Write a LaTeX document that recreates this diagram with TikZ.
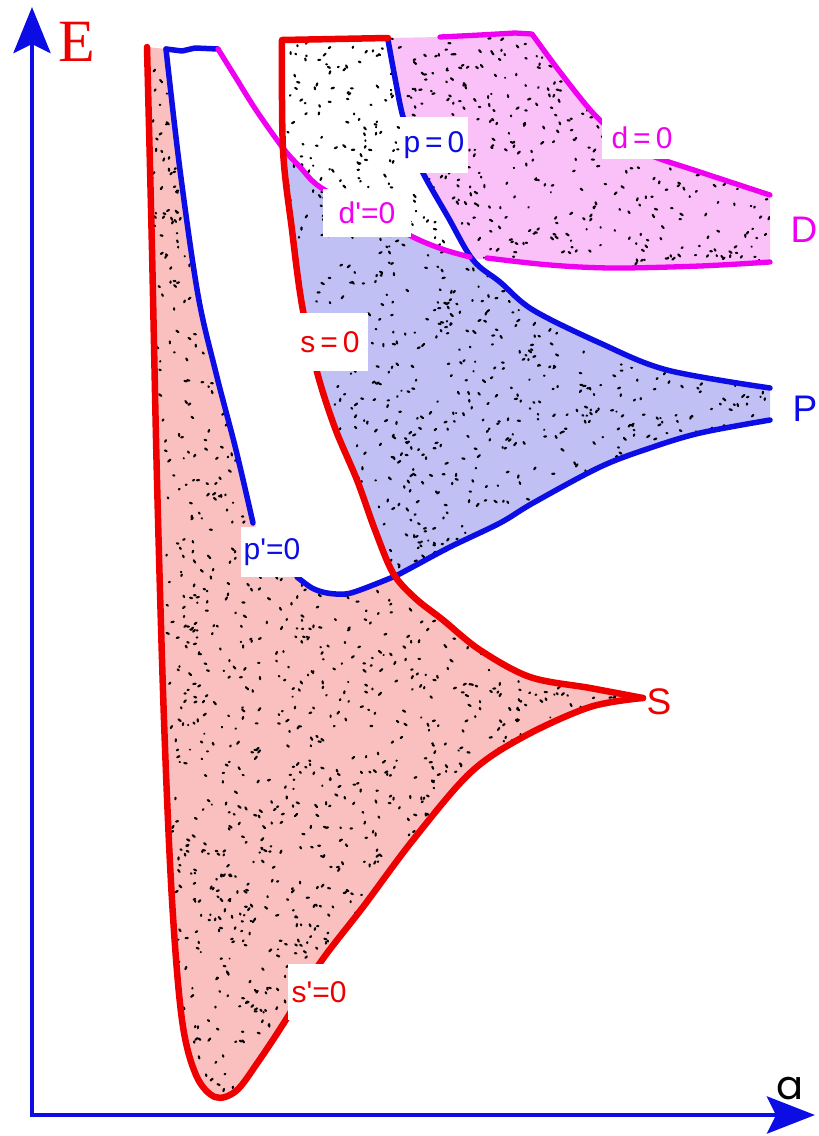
\documentclass[tikz,border=0pt]{standalone}
\usepackage{fontspec}
\setmainfont{Liberation Sans}
\newfontfamily\serifE{Liberation Serif}
\newfontfamily\afont{Poppins}
\usetikzlibrary{arrows.meta}
\definecolor{redl}{RGB}{238,0,0}
\definecolor{bluel}{RGB}{12,12,228}
\definecolor{magl}{RGB}{240,0,240}
\definecolor{pinkf}{RGB}{250,192,192}
\definecolor{bluef}{RGB}{192,192,245}
\definecolor{magf}{RGB}{250,192,248}
\newcommand{\stipple}[5]{%
  \foreach \i in {1,...,#1}{%
    \pgfmathsetmacro\stpx{#2+rnd*(#3-#2)}%
    \pgfmathsetmacro\stpy{#4+rnd*(#5-#4)}%
    \pgfmathsetmacro\stdx{rand*2.4}%
    \pgfmathsetmacro\stdy{rand*2.4}%
    \draw[dotmark] (\stpx,\stpy) -- ++(\stdx,\stdy);
  }}
% region outlines
\def\pathS{(147,47) -- plot[smooth,tension=0.55] coordinates {(147,47) (152,250) (157,480) (164,720) (172,900) (182,1020) (196,1075) (215,1097) (236,1091) (258,1062) (287,1018) (320,963) (363,907) (413,840) (470,773) (523,737) (590,707) (643,698)}
  -- plot[smooth,tension=0.55] coordinates {(643,698) (590,688) (530,677) (480,650) (443,620) (415,598) (393,573)}
  -- plot[smooth,tension=0.55] coordinates {(393,577) (360,590) (345,594) (327,593) (312,588) (297,577)}
  -- plot[smooth,tension=0.55] coordinates {(253,523) (236,450) (216,373) (198,295) (180,170) (166,49)} -- cycle}
\def\pathP{(283,148) -- plot[smooth,tension=0.55] coordinates {(283,148) (300,167) (320,187) (368,213) (415,238) (445,250) (470,257)}
  -- plot[smooth,tension=0.55] coordinates {(473,260) (500,282) (533,310) (600,343) (667,370) (770,388)}
  -- plot[smooth,tension=0.55] coordinates {(770,420) (700,433) (650,448) (600,467) (533,503) (500,523) (450,547) (407,570) (393,577)}
  -- plot[smooth,tension=0.55] coordinates {(393,573) (375,530) (357,480) (335,428) (317,372) (302,305) (292,230) (283,150)} -- cycle}
\def\pathW{(282,40) -- (388,38) -- plot[smooth,tension=0.55] coordinates {(388,40) (395,78) (402,113) (412,145) (423,173) (448,217) (473,260)}
  -- plot[smooth,tension=0.55] coordinates {(470,257) (445,250) (415,238) (368,213) (320,187) (300,167) (283,148)} -- cycle}
\def\pathD{(388,38) -- (440,37) -- (480,35) -- (515,33) -- (532,34) -- plot[smooth,tension=0.55] coordinates {(532,34) (560,72) (593,113) (620,137) (650,155) (700,172) (770,195)}
  -- (770,262) -- plot[smooth,tension=0.55] coordinates {(770,262) (700,266) (613,268) (550,265) (487,258)}
  -- plot[smooth,tension=0.55] coordinates {(473,260) (448,217) (423,173) (412,145) (402,113) (395,78) (388,40)} -- cycle}
\tikzset{
  dotmark/.style={black,line width=2.1pt,line cap=round},
  redline/.style={redl,line width=6.5pt,line join=round,line cap=round},
  blueline/.style={bluel,line width=5.5pt,line join=round,line cap=round},
  magline/.style={magl,line width=5.3pt,line join=round,line cap=round},
  axis/.style={bluel,line width=4.8pt,line join=miter},
  lab/.style={fill=white,inner sep=2pt,font=\fontsize{30}{32}\selectfont},
  biglab/.style={inner sep=1pt,font=\fontsize{37}{40}\selectfont},
}
\begin{document}
\begin{tikzpicture}[x=1pt,y=-1pt]
\useasboundingbox (0,0) rectangle (819,1136);
\pgfmathsetseed{4711}
% fills
\fill[pinkf] \pathS;
\fill[bluef] \pathP;
\fill[magf] \pathD;
% stipple
\begin{scope}
  \clip \pathS;
  \stipple{3000}{145}{645}{45}{1100}
\end{scope}
\begin{scope}
  \clip \pathP;
  \stipple{1200}{280}{770}{145}{580}
\end{scope}
\begin{scope}
  \clip \pathW;
  \stipple{240}{282}{475}{38}{262}
\end{scope}
\begin{scope}
  \clip \pathD;
  \stipple{520}{388}{770}{33}{270}
\end{scope}
% blue lines
\draw[blueline] plot[smooth,tension=0.55] coordinates {(166,49) (180,170) (198,295) (216,373) (236,450) (253,523)};
\draw[blueline] (166,49) -- (182,51) -- (195,48) -- (218,49);
\draw[blueline] plot[smooth,tension=0.55] coordinates {(297,577) (312,588) (327,593) (345,594) (360,590) (393,577) (407,570) (450,547) (500,523) (533,503) (600,467) (650,448) (700,433) (770,420)};
\draw[blueline] plot[smooth,tension=0.55] coordinates {(388,40) (395,78) (402,113) (412,145) (423,173) (448,217) (473,260) (500,282) (533,310) (600,343) (667,370) (770,388)};
% magenta lines
\draw[magline] plot[smooth,tension=0.55] coordinates {(218,49) (236,78) (256,110) (283,148) (300,167) (320,187) (368,213) (415,238) (445,250) (470,257)};
\draw[magline] (440,37) -- (480,35) -- (515,33) -- (532,34) -- plot[smooth,tension=0.55] coordinates {(532,34) (560,72) (593,113) (620,137) (650,155) (700,172) (770,195)};
\draw[magline] plot[smooth,tension=0.55] coordinates {(487,258) (550,265) (613,268) (700,266) (770,262)};
% red lines
\draw[redline] (388,38) -- (282,40) -- plot[smooth,tension=0.55] coordinates {(282,40) (283,150) (292,230) (302,305) (317,372) (335,428) (357,480) (375,530) (393,573) (415,598) (443,620) (480,650) (530,677) (590,688) (643,698)};
\draw[redline] plot[smooth,tension=0.55] coordinates {(147,47) (152,250) (157,480) (164,720) (172,900) (182,1020) (196,1075) (215,1097) (236,1091) (258,1062) (287,1018) (320,963) (363,907) (413,840) (470,773) (523,737) (590,707) (643,698)};
% curve labels with white patches
\node[lab,text=redl,minimum width=76pt,minimum height=58pt] (s0) at (330,342) {s\,=\,0};
\node[lab,text=redl,minimum width=62pt,minimum height=56pt] (sp0) at (319,992) {s\textquotesingle=0};
\node[lab,text=bluel,minimum width=62pt,minimum height=50pt] (pp0) at (272,552) {p\textquotesingle=0};
\node[lab,text=bluel,minimum width=68pt,minimum height=56pt] (p0) at (434,145) {p\,=\,0};
\node[lab,text=magl,minimum width=88pt,minimum height=48pt] (dp0) at (367,213) {d\textquotesingle=0};
\node[lab,text=magl,minimum width=80pt,minimum height=42pt] (d0) at (642,138) {d\,=\,0};
% branch labels
\node[biglab,text=redl] (S) at (659,702) {S};
\node[biglab,text=bluel] (P) at (805,409) {P};
\node[biglab,text=magl] (D) at (804,230) {D};
% axes
\coordinate (O) at (32,1115);
\coordinate (Etop) at (32,7);
\coordinate (Aend) at (815,1115);
\draw[axis,{Stealth[length=46pt,width=37pt,inset=9pt]}-{Stealth[length=48pt,width=37pt,inset=9pt]}] (Etop) -- (O) -- (Aend);
\node[text=redl,font=\serifE\fontsize{60}{60}\selectfont] (E) at (77,42) {E};
\node[text=black,font=\afont\fontsize{40}{40}\selectfont] (a) at (790,1089) {a};
\end{tikzpicture}
\end{document}
